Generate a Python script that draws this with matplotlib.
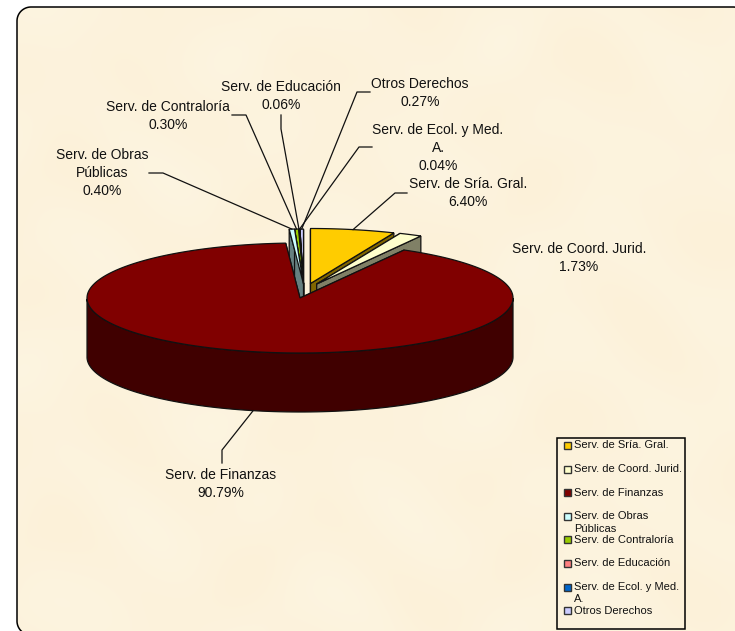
import numpy as np
import matplotlib
matplotlib.use("Agg")
import matplotlib.pyplot as plt
from matplotlib.patches import Polygon, Rectangle
from matplotlib.colors import to_rgb

plt.rcParams['font.family'] = ['Liberation Sans', 'DejaVu Sans']

categories = ["Serv. de Sría. Gral.", "Serv. de Coord. Jurid.", "Serv. de Finanzas",
              "Serv. de Obras\nPúblicas", "Serv. de Contraloría", "Serv. de Educación",
              "Serv. de Ecol. y Med.\nA.", "Otros Derechos"]
values = [6.40, 1.73, 90.79, 0.40, 0.30, 0.06, 0.04, 0.27]
colors = ["#FFCC00", "#FFFFCC", "#800000", "#CCFFFF", "#99CC00", "#FF8080", "#0066CC", "#CCCCFF"]
draw_order = [7, 6, 5, 4, 3, 0, 1, 2]

# how far each slice is pulled out of the pie, in pixels
shift_x = [10.5, 16.7, 0, 3.5, 3.5, 3.5, 3.5, 3.5]
shift_y = [-14.5, -14, 0, -14, -14, -14, -14, -14]

# text position of each label, leader start and elbow
label_pos = [(468, 193), (579, 258), (221, 484), (102, 173), (168, 116), (281, 96), (438, 148), (420, 93)]
leader_pts = [[(407, 193), (395, 193)], None, [(222, 463), (222, 450)], [(149, 173), (163, 173)],
              [(232, 115), (246, 115)], [(281, 115), (281, 129)], [(372, 147), (359, 147)], [(370, 92), (357, 92)]]

cx, cy, rx, ry, depth = 300, 298, 213, 55, 59
line = "#111111"


def rim(a, ox, oy, dy=0):
    return ox + rx * np.sin(a), oy - ry * np.cos(a) + dy


def corner(x, y, r, a0, a1):
    t = np.radians(np.linspace(a0, a1, 20))
    return list(zip(x + r * np.cos(t), y + r * np.sin(t)))


fig = plt.figure(figsize=(7.35, 6.31), dpi=100)
ax = fig.add_axes([0, 0, 1, 1])
ax.axis("off")

# parchment background
xx, yy = np.meshgrid(np.arange(735), np.arange(631))
tex = (np.sin(xx / 37.0 + yy / 53.0) + np.sin(xx / 23.0 - yy / 31.0) + np.sin(yy / 19.0 + 2 * np.sin(xx / 41.0))) / 3
bg = np.dstack([np.full(tex.shape, 0.992), 0.952 + 0.006 * tex, 0.865 + 0.014 * tex])
img = ax.imshow(bg, extent=(0, 735, 631, 0), aspect="auto", zorder=0)

# rounded frame, runs off the right and bottom of the picture
frame = corner(31, 621, 14, 130, 180) + corner(31, 21, 14, 180, 270) + corner(733, 21, 14, 270, 310)
fill = Polygon(frame + [(735, 631)], fc="none", ec="none", transform=ax.transData)
ax.add_patch(fill)
img.set_clip_path(fill)
ax.plot([p[0] for p in frame], [p[1] for p in frame], color="black", lw=1.1, zorder=1)
ax.set_xlim(0, 735)
ax.set_ylim(631, 0)

# slice angles, clockwise from 12 o'clock
edges = np.cumsum([0] + values) / sum(values) * 2 * np.pi
z = 2
mids = {}
for i in draw_order:
    a0, a1 = edges[i], edges[i + 1]
    ox, oy = cx + shift_x[i], cy + shift_y[i]
    mids[i] = ((a0 + a1) / 2, ox, oy)
    col = to_rgb(colors[i])
    dark = tuple(c * 0.5 for c in col)
    ang = np.linspace(a0, a1, 200)
    xs, ys = rim(ang, ox, oy)
    # cut faces
    for a in (a0, a1):
        ex, ey = rim(a, ox, oy)
        ax.add_patch(Polygon([(ox, oy), (ex, ey), (ex, ey + depth), (ox, oy + depth)],
                             fc=dark, ec=line, lw=0.9, zorder=z))
        z += 1
    # outer wall, front half only
    front = ang[(ang >= np.pi / 2) & (ang <= 3 * np.pi / 2)]
    if len(front) > 1:
        fx, fy = rim(front, ox, oy)
        pts = list(zip(fx, fy)) + list(zip(fx[::-1], fy[::-1] + depth))
        ax.add_patch(Polygon(pts, fc=dark, ec=line, lw=0.9, zorder=z))
        z += 1
    ax.add_patch(Polygon([(ox, oy)] + list(zip(xs, ys)), fc=col, ec=line, lw=0.9, zorder=z))
    z += 1

# labels and leaders
for i, cat in enumerate(categories):
    ax.text(label_pos[i][0], label_pos[i][1], "%s\n%.2f%%" % (cat, values[i]), ha="center", va="center",
            fontsize=10, color="#111111", linespacing=1.35, zorder=200)
    if leader_pts[i] is None:
        continue
    mid, ox, oy = mids[i]
    ex, ey = rim(mid, ox, oy, depth if i == 2 else 0)
    pts = leader_pts[i] + [(ex, ey)]
    ax.plot([p[0] for p in pts], [p[1] for p in pts], color=line, lw=0.9, zorder=150)

# legend
ax.add_patch(Rectangle((557, 437.5), 128.5, 191, fc="none", ec="black", lw=1.1, zorder=190))
for i, cat in enumerate(categories):
    y = 445.5 + i * 23.6
    ax.add_patch(Rectangle((564, y - 3.5), 7, 7, fc=colors[i], ec="#333333", lw=1.0, zorder=191))
    ax.text(574, y - 5, cat, ha="left", va="top", fontsize=8.05, color="#111111", linespacing=1.3, zorder=191)

fig.savefig("out.png", dpi=100)
